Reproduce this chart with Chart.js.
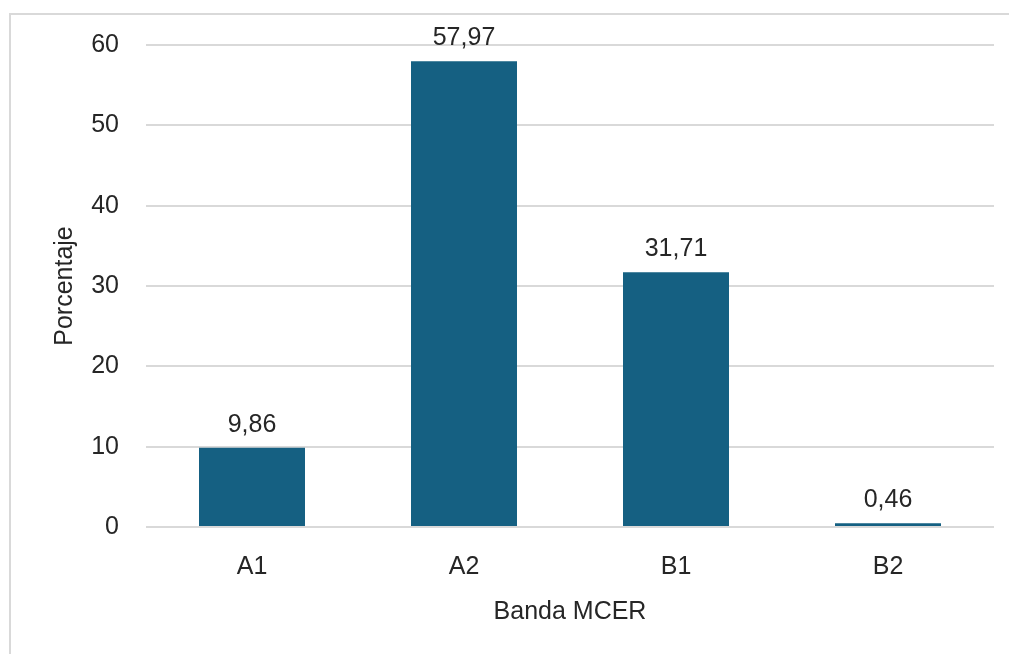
<!DOCTYPE html>
<html>
<head>
<meta charset="utf-8">
<script src="https://cdn.jsdelivr.net/npm/chart.js@4.4.1/dist/chart.umd.min.js"></script>
<style>
  html, body { margin: 0; padding: 0; background: #fff; }
  #wrap { position: relative; width: 1009px; height: 654px; overflow: hidden; }
  #frame { position: absolute; left: 9px; top: 13px; width: 1100px; height: 700px;
           border: 2px solid #d9d9d9; box-sizing: border-box; }
  #c { position: absolute; left: 0; top: 0; }
</style>
</head>
<body>
<div id="wrap">
  <div id="frame"></div>
  <canvas id="c" width="1009" height="654"></canvas>
</div>
<script>
'use strict'

var categories = ['A1', 'A2', 'B1', 'B2'];
var percentages = [9.86, 57.97, 31.71, 0.46];
var yTicks = [0, 10, 20, 30, 40, 50, 60];

var FONT = '"Liberation Sans", Arial, sans-serif';
var TEXT = '#262626';

// labels above each bar, e.g. "57,97"
var valueLabels = {
  id: 'valueLabels',
  afterDatasetsDraw: function (chart) {
    var ctx = chart.ctx;
    var meta = chart.getDatasetMeta(0);
    ctx.save();
    ctx.font = '25px ' + FONT;
    ctx.fillStyle = TEXT;
    ctx.textAlign = 'center';
    ctx.textBaseline = 'middle';
    meta.data.forEach(function (bar, i) {
      var txt = percentages[i].toFixed(2).replace('.', ',');
      ctx.fillText(txt, bar.x, bar.y - 23);
    });
    ctx.restore();
  }
};

new Chart(document.getElementById('c').getContext('2d'), {
  type: 'bar',
  data: {
    labels: categories,
    datasets: [{
      data: percentages,
      backgroundColor: '#156082',
      borderWidth: 0,
      categoryPercentage: 1,
      barPercentage: 0.5
    }]
  },
  options: {
    responsive: false,
    animation: false,
    layout: { padding: { top: 45, right: 15, left: 0, bottom: 0 } },
    plugins: { legend: { display: false }, tooltip: { enabled: false } },
    scales: {
      x: {
        grid: { display: false, drawTicks: false },
        border: { display: false },
        ticks: { color: TEXT, font: { family: FONT, size: 25 }, padding: 25 },
        title: {
          display: true, text: 'Banda MCER', color: TEXT,
          font: { family: FONT, size: 25, lineHeight: 1.2 },
          padding: { top: 0, bottom: 27 }
        },
        afterFit: function (s) { s.height = 127; }
      },
      y: {
        min: 0, max: 60,
        afterBuildTicks: function (s) { s.ticks = yTicks.map(function (v) { return { value: v }; }); },
        grid: { color: '#d9d9d9', lineWidth: 2, drawTicks: false },
        border: { display: false },
        ticks: { color: TEXT, font: { family: FONT, size: 25 }, padding: 27 },
        title: {
          display: true, text: 'Porcentaje', color: TEXT,
          font: { family: FONT, size: 25, lineHeight: 1.2 },
          padding: { top: 50, bottom: 0 }
        },
        afterFit: function (s) { s.width = 146; }
      }
    }
  },
  plugins: [valueLabels]
});
</script>
</body>
</html>
